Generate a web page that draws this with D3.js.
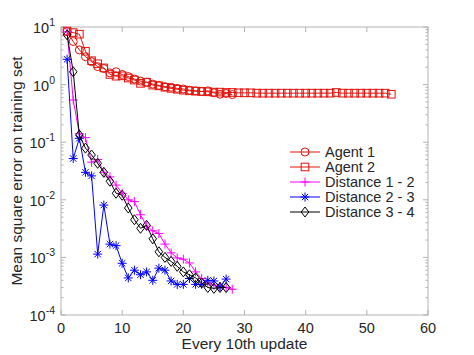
<!DOCTYPE html>
<html><head><meta charset="utf-8">
<script src="https://cdn.jsdelivr.net/npm/d3@7"></script>
<style>body{margin:0;background:#fff}svg{display:block}text{font-family:"Liberation Sans",Arial,Helvetica,sans-serif;fill:#262626}</style>
</head><body>
<script>
const agent1 = [8.3,5.6,4.0,3.05,2.5,2.05,1.9,1.6,1.67,1.5,1.38,1.25,1.15,1.1,1.02,0.97,0.92,0.9,0.86,0.84,0.8,0.78,0.76,0.78,0.72,0.68,0.7,0.67];
const agent2 = [8.5,8.0,7.5,3.8,2.6,2.3,1.95,1.5,1.4,1.42,1.3,1.2,1.05,1.1,0.98,0.95,0.9,0.86,0.83,0.8,0.78,0.77,0.76,0.75,0.74,0.74,0.73,0.73,0.72,0.72,0.72,0.71,0.71,0.71,0.71,0.71,0.71,0.71,0.71,0.71,0.71,0.71,0.71,0.71,0.73,0.71,0.71,0.71,0.71,0.71,0.71,0.71,0.71,0.68];
const dist12 = [8.3,0.54,0.14,0.12,0.045,0.05,0.03,0.025,0.018,0.013,0.01,0.0093,0.0055,0.0035,0.0029,0.0026,0.0017,0.0012,0.00098,0.00093,0.0008,0.00056,0.00043,0.00036,0.00033,0.00031,0.0003,0.00028];
const dist23 = [2.75,0.052,0.117,0.03,0.026,0.00114,0.0081,0.0017,0.0016,0.00079,0.00044,0.0006,0.0005,0.00056,0.0004,0.00065,0.0006,0.00039,0.00034,0.00034,0.00043,0.00034,0.00034,0.0004,0.00039,0.00031,0.00042];
const dist34 = [7.3,1.67,0.133,0.079,0.06,0.043,0.03,0.021,0.013,0.012,0.0072,0.0045,0.0032,0.0036,0.0021,0.00125,0.001,0.00085,0.0007,0.00056,0.0005,0.00044,0.00036,0.0003,0.00029,0.0003,0.0003];
const xTicks = [0,10,20,30,40,50,60];
const yTickExps = [-4,-3,-2,-1,0,1];
const seriesNames = ["Agent 1","Agent 2","Distance 1 - 2","Distance 2 - 3","Distance 3 - 4"];
const xLabel = "Every 10th update";
const yLabel = "Mean square error on training set";

const W=474,H=355;
const m={l:61,r:46,t:27,b:40};
const svg=d3.select("body").append("svg").attr("width",W).attr("height",H);
const x=d3.scaleLinear().domain([0,60]).range([m.l,W-m.r]);
const y=d3.scaleLog().domain([1e-4,10]).range([H-m.b,m.t]);
const axisCol="#b3b3b3";

const g=svg.append("g");
g.append("rect").attr("x",x(0)).attr("y",y(10)).attr("width",x(60)-x(0)).attr("height",y(1e-4)-y(10))
 .attr("fill","none").attr("stroke",axisCol).attr("stroke-width",1);
xTicks.forEach(t=>{
  g.append("line").attr("x1",x(t)).attr("x2",x(t)).attr("y1",y(1e-4)).attr("y2",y(1e-4)-5).attr("stroke",axisCol);
  g.append("line").attr("x1",x(t)).attr("x2",x(t)).attr("y1",y(10)).attr("y2",y(10)+5).attr("stroke",axisCol);
  g.append("text").attr("x",x(t)).attr("y",y(1e-4)+18).attr("text-anchor","middle").attr("font-size",14.5).text(t);
});
yTickExps.forEach(e=>{
  const v=Math.pow(10,e);
  [x(0),x(60)].forEach((xx,i)=>{
    const d=i===0?1:-1;
    g.append("line").attr("x1",xx).attr("x2",xx+d*5).attr("y1",y(v)).attr("y2",y(v)).attr("stroke",axisCol);
    if(e<1) for(let k=2;k<10;k++){
      g.append("line").attr("x1",xx).attr("x2",xx+d*2.5).attr("y1",y(v*k)).attr("y2",y(v*k)).attr("stroke",axisCol);
    }
  });
  const t=g.append("text").attr("x",x(0)-6).attr("y",y(v)+6).attr("text-anchor","end").attr("font-size",14.5);
  t.append("tspan").text("10");
  t.append("tspan").attr("dy",-7).attr("font-size",10.5).text(e);
});
svg.append("text").attr("x",(x(0)+x(60))/2).attr("y",H-6).attr("text-anchor","middle").attr("font-size",15.5).text(xLabel);
svg.append("text").attr("transform",`translate(22,${(y(10)+y(1e-4))/2}) rotate(-90)`).attr("text-anchor","middle").attr("font-size",15.5).text(yLabel);

function marker(sel,type,col){
  const s=sel;
  if(type==="o") return s.append("circle").attr("r",4).attr("fill","none").attr("stroke",col);
  if(type==="s") return s.append("rect").attr("x",-3.8).attr("y",-3.8).attr("width",7.6).attr("height",7.6).attr("fill","none").attr("stroke",col);
  if(type==="+") return s.append("path").attr("d","M-4.5,0H4.5M0,-4.5V4.5").attr("stroke",col).attr("fill","none");
  if(type==="*") return s.append("path").attr("d","M-4.5,0H4.5M0,-4.5V4.5M-3.2,-3.2L3.2,3.2M-3.2,3.2L3.2,-3.2").attr("stroke",col).attr("fill","none");
  if(type==="d") return s.append("path").attr("d","M0,-5L3.8,0L0,5L-3.8,0Z").attr("stroke",col).attr("fill","none");
}
const series=[
 {name:seriesNames[0],data:agent1,col:"#e3120b",m:"o"},
 {name:seriesNames[1],data:agent2,col:"#e3120b",m:"s"},
 {name:seriesNames[2],data:dist12,col:"#ff00ff",m:"+"},
 {name:seriesNames[3],data:dist23,col:"#0000ff",m:"*"},
 {name:seriesNames[4],data:dist34,col:"#000000",m:"d"}
];
const line=d3.line().x((d,i)=>x(i+1)).y(d=>y(d));
series.forEach(s=>{
  svg.append("path").datum(s.data).attr("d",line).attr("fill","none").attr("stroke",s.col).attr("stroke-width",1);
  s.data.forEach((v,i)=>{
    const mg=svg.append("g").attr("transform",`translate(${x(i+1)},${y(v)})`);
    marker(mg,s.m,s.col);
  });
});
const lg=svg.append("g");
series.forEach((s,i)=>{
  const yy=152+i*15;
  lg.append("line").attr("x1",290).attr("x2",320).attr("y1",yy).attr("y2",yy).attr("stroke",s.col);
  marker(lg.append("g").attr("transform",`translate(305,${yy})`),s.m,s.col);
  lg.append("text").attr("x",325).attr("y",yy+5).attr("font-size",14.5).text(s.name);
});
</script>
</body></html>
